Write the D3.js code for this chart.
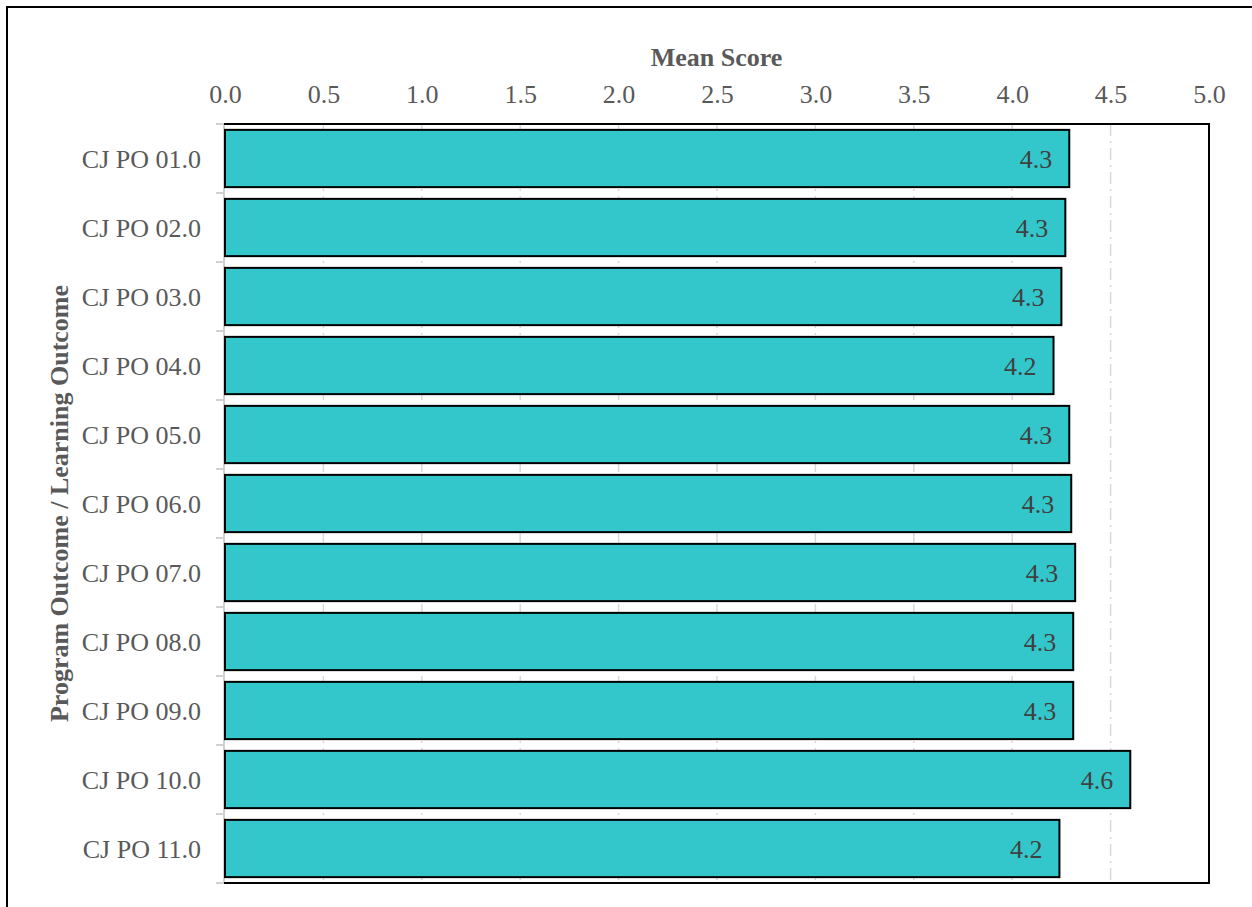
<!DOCTYPE html>
<html>
  <head>
    <title>Mean Score</title>
    <script src="https://cdn.jsdelivr.net/npm/d3@7"></script>
    <style>
      body { margin: 0; background: #fff; }
      text { font-family: "Liberation Serif", "Times New Roman", serif; }
    </style>
  </head>
  <body>
    <svg width="1252" height="907" id="mainsvg"></svg>
    <script>
      const categories = ['CJ PO 01.0', 'CJ PO 02.0', 'CJ PO 03.0', 'CJ PO 04.0', 'CJ PO 05.0', 'CJ PO 06.0',
                          'CJ PO 07.0', 'CJ PO 08.0', 'CJ PO 09.0', 'CJ PO 10.0', 'CJ PO 11.0'];
      const scores = [4.29, 4.27, 4.25, 4.21, 4.29, 4.30, 4.32, 4.31, 4.31, 4.60, 4.24];
      const xTicks = [0, 0.5, 1, 1.5, 2, 2.5, 3, 3.5, 4, 4.5, 5];

      const svg = d3.select('#mainsvg');
      const margin = {top: 124, right: 43, bottom: 24, left: 224};
      const innerWidth = 1252 - margin.left - margin.right;
      const innerHeight = 907 - margin.top - margin.bottom;
      const fontSize = 26;

      // outer frame, only left and top edges show in the picture
      svg.append('path').attr('d', 'M7,907 V7 H1252')
        .attr('fill', 'none').attr('stroke', '#000').attr('stroke-width', 2);

      const g = svg.append('g').attr('transform', `translate(${margin.left}, ${margin.top})`);

      const xScale = d3.scaleLinear().domain([0, 5]).range([1, innerWidth]);
      const yScale = d3.scaleBand().domain(categories).range([0, innerHeight]).paddingInner(0.17).paddingOuter(0.085);

      // grid lines (dash-dot)
      g.append('g').selectAll('line').data(xTicks.slice(1, -1)).join('line')
        .attr('x1', d => xScale(d)).attr('x2', d => xScale(d))
        .attr('y1', 0).attr('y2', innerHeight)
        .attr('stroke', '#d9d9d9').attr('stroke-width', 1.5)
        .attr('stroke-dasharray', '12,5,2,5');

      // top axis
      const xAxis = d3.axisTop(xScale).tickValues(xTicks).tickFormat(d3.format('.1f')).tickSize(0).tickPadding(21);
      const xAxisGroup = g.append('g').call(xAxis);
      xAxisGroup.select('.domain').remove();
      xAxisGroup.selectAll('text').attr('font-size', fontSize).attr('fill', '#595959')
        .style('font-family', '"Liberation Serif", serif');

      // left axis, ticks at band edges
      const edges = categories.map(c => yScale(c) - yScale.step() * yScale.paddingInner() / 2);
      edges.push(innerHeight);
      g.append('g').selectAll('line').data(edges).join('line')
        .attr('x1', -8).attr('x2', 0).attr('y1', d => d).attr('y2', d => d)
        .attr('stroke', '#d0d0d0').attr('stroke-width', 2);
      g.append('line').attr('x1', 0).attr('x2', 0).attr('y1', 0).attr('y2', innerHeight)
        .attr('stroke', '#d0d0d0').attr('stroke-width', 2);
      g.append('g').selectAll('text').data(categories).join('text')
        .attr('x', -23).attr('y', d => yScale(d) + yScale.bandwidth() / 2)
        .attr('dy', '0.35em').attr('text-anchor', 'end')
        .attr('font-size', fontSize).attr('fill', '#595959').text(d => d);

      // bars
      g.append('g').selectAll('rect').data(categories).join('rect')
        .attr('x', xScale(0)).attr('y', d => yScale(d))
        .attr('width', (d, i) => xScale(scores[i]) - xScale(0))
        .attr('height', yScale.bandwidth())
        .attr('fill', '#33c6ca').attr('stroke', '#000').attr('stroke-width', 2);

      // value labels
      g.append('g').selectAll('text').data(categories).join('text')
        .attr('x', (d, i) => xScale(scores[i]) - 17)
        .attr('y', d => yScale(d) + yScale.bandwidth() / 2)
        .attr('dy', '0.35em').attr('text-anchor', 'end')
        .attr('font-size', fontSize).attr('fill', '#404040')
        .text((d, i) => scores[i].toFixed(1));

      // plot border: top, right, bottom
      g.append('path')
        .attr('d', `M0,0 H${innerWidth} V${innerHeight} H0`)
        .attr('fill', 'none').attr('stroke', '#000').attr('stroke-width', 2);

      // axis titles
      svg.append('text').attr('x', margin.left + innerWidth / 2).attr('y', 66)
        .attr('text-anchor', 'middle').attr('font-size', fontSize).attr('font-weight', 'bold')
        .attr('fill', '#595959').text('Mean Score');
      svg.append('text')
        .attr('transform', `translate(68, ${margin.top + innerHeight / 2}) rotate(-90)`)
        .attr('text-anchor', 'middle').attr('font-size', fontSize).attr('font-weight', 'bold')
        .attr('fill', '#595959').text('Program Outcome / Learning Outcome');
    </script>
  </body>
</html>
